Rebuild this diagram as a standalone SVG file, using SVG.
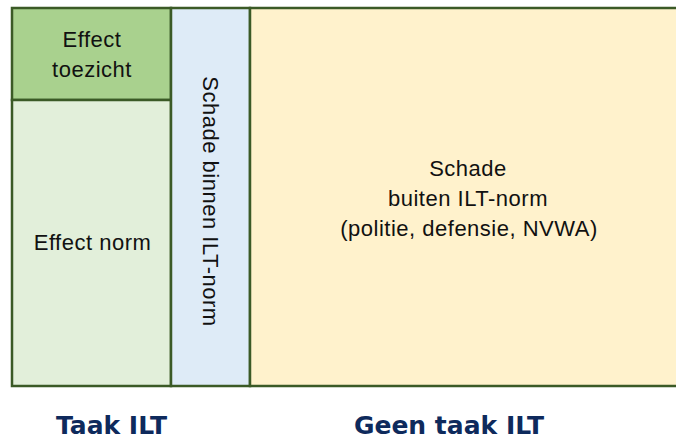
<svg xmlns="http://www.w3.org/2000/svg" width="676" height="441" viewBox="0 0 676 441">
<style>
.box{stroke:#3b5a26;stroke-width:2.5}
.t{font-family:"Liberation Sans",Arial,sans-serif;font-size:22px;letter-spacing:0.5px;fill:#111;text-anchor:middle}
.lbl{font-family:"DejaVu Sans","Liberation Sans",sans-serif;font-size:25px;font-weight:bold;fill:#0e2a5c;text-anchor:middle}
</style>
<rect width="676" height="441" fill="#ffffff"/>
<g id="effect-toezicht">
<rect class="box" x="12" y="8" width="159" height="92" fill="#a9d18e"/>
<text class="t" x="92" y="47">Effect</text>
<text class="t" x="92" y="77">toezicht</text>
</g>
<g id="effect-norm">
<rect class="box" x="12" y="100" width="159" height="286" fill="#e2efda"/>
<text class="t" x="92.5" y="250">Effect norm</text>
</g>
<g id="schade-binnen">
<rect class="box" x="171" y="8" width="79" height="378" fill="#deebf7"/>
<text class="t" transform="translate(203,201.5) rotate(90)" x="0" y="0">Schade binnen ILT-norm</text>
</g>
<g id="schade-buiten">
<rect class="box" x="250" y="8" width="430" height="378" fill="#fff2cc"/>
<text class="t" x="468" y="176">Schade</text>
<text class="t" x="468" y="206">buiten ILT-norm</text>
<text class="t" x="469" y="236">(politie, defensie, NVWA)</text>
</g>
<g id="labels">
<text class="lbl" x="111.5" y="434">Taak ILT</text>
<text class="lbl" x="449" y="434">Geen taak ILT</text>
</g>
<g id="connectors"></g>
</svg>
